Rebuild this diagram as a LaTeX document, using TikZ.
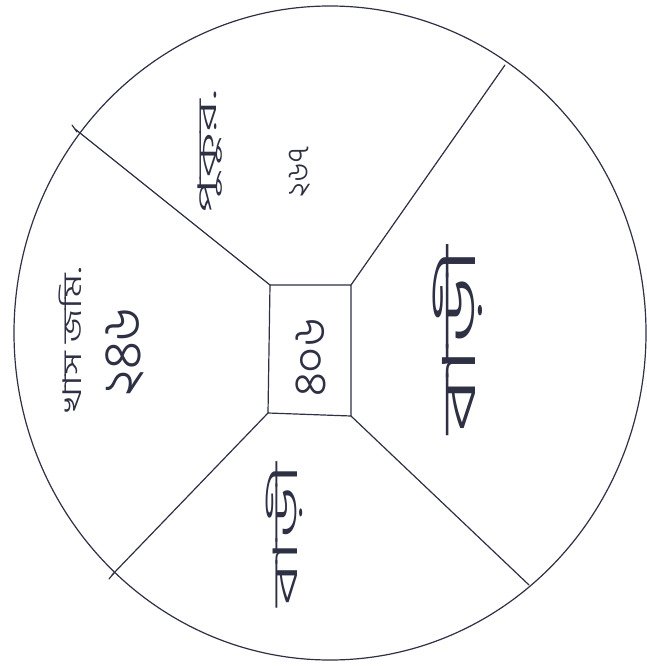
\documentclass[tikz,border=0pt]{standalone}
\usepackage{fontspec}
\newfontfamily\bnfont[Script=Bengali]{Hind Siliguri Light}
\definecolor{ink}{HTML}{2E3044}
\begin{document}
\begin{tikzpicture}[x=1pt,y=-1pt,
  pen/.style={draw=ink, line width=1.2pt, line cap=round, line join=round},
  lbl/.style={text=ink, font=\bnfont, rotate=90, inner sep=0pt}]
\useasboundingbox (0,0) rectangle (647,666);
\fill[white] (0,0) rectangle (647,666);
% outer circle
\draw[pen] (330,333) ellipse [x radius=316pt, y radius=327pt];
% centre plot
\coordinate (bnw) at (270,285);
\coordinate (bne) at (351,285);
\coordinate (bse) at (351,416);
\coordinate (bsw) at (268,413);
\draw[pen] (bnw) -- (bne) -- (bse) -- (bsw) -- cycle;
\node[lbl, font=\bnfont\fontsize{46}{48}\selectfont] (n0) at (311,357) {৪০৬};
% boundary ends on the circle
\coordinate (ul) at (75,129);
\coordinate (ur) at (505,65);
\coordinate (lr) at (529,585);
\coordinate (ll) at (112,575);
\draw[pen] (bnw) -- (ul);
\draw[pen] (bne) -- (ur);
\draw[pen] (bse) -- (lr);
\draw[pen] (bsw) -- (ll);
% tick marks on the circle
\draw[pen] (ul) ++(-3,-4) -- ++(5,7);
\draw[pen] (ll) ++(-3,4) -- ++(5,-6);
% sector labels
\node[lbl, font=\bnfont\fontsize{30}{32}\selectfont] (n1) at (300,172) {২৬৭};
\node[lbl, font=\bnfont\fontsize{26}{28}\selectfont] (w1) at (210,152) {\scalebox{2.4}[1]{পুকুর.}};
\node[lbl, font=\bnfont\fontsize{54}{56}\selectfont] (n2) at (125,352) {২৪৬};
\node[lbl, font=\bnfont\fontsize{26}{28}\selectfont] (w2) at (70,340) {\scalebox{1.6}[1]{খাস জমি.}};
\node[lbl, font=\bnfont\fontsize{46}{48}\selectfont] (w3) at (458,340) {\scalebox{2.4}[1]{বাড়ী}};
\node[lbl, font=\bnfont\fontsize{34}{36}\selectfont] (w4) at (284,535) {\scalebox{2.5}[1]{বাড়ী}};
\end{tikzpicture}
\end{document}
